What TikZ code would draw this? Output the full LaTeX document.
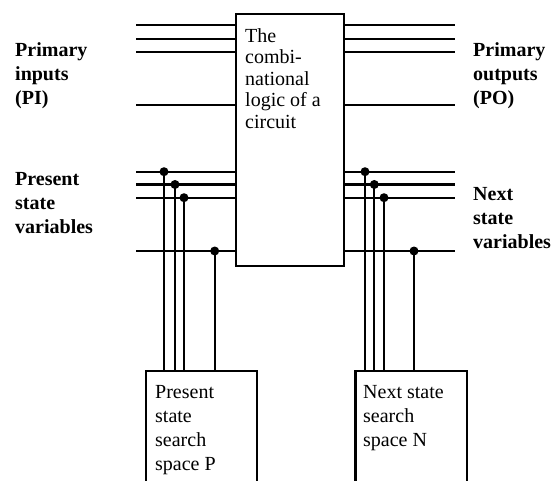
\documentclass[tikz,border=0pt]{standalone}
\usepackage{fontspec}
\setmainfont{Liberation Serif}
\usetikzlibrary{positioning}
\tikzset{
  wire/.style={line width=2.2pt},
  box/.style={draw, line width=2.2pt, inner sep=0pt, anchor=north west},
  sidelabel/.style={font=\fontsize{20}{24}\selectfont\bfseries, align=left, anchor=north west, inner sep=0pt},
  boxtext/.style={font=\fontsize{20}{24}\selectfont, align=left, anchor=north west, inner sep=0pt},
  joint/.style={circle, fill, inner sep=0pt, minimum size=9pt},
}

\begin{document}
\begin{tikzpicture}[x=1pt,y=-1pt]
    \useasboundingbox (0,0) rectangle (554,481);
    \clip (0,0) rectangle (554,481);
    % combinational block
    \node[box, minimum width=108pt, minimum height=252pt] (logic) at (235,13) {};
    \node[boxtext, font=\fontsize{20}{21.5}\selectfont] (logictext) at (245,28)
      {The\\combi-\\national\\logic of a\\circuit};
    % search space boxes (cut off at the bottom)
    \node[box, minimum width=110.7pt, minimum height=140pt] (psp) at (145,370) {};
    \node[boxtext] (psptext) at (155,385) {Present\\state\\search\\space P};
    \node[box, minimum width=111.4pt, minimum height=140pt] (nsp) at (354.3,370) {};
    \node[boxtext] (nsptext) at (363,385) {Next state\\search\\space N};
    % side labels
    \node[sidelabel] (pi) at (15,42) {Primary\\inputs\\(PI)};
    \node[sidelabel] (ps) at (15,172) {Present\\state\\variables};
    \node[sidelabel] (po) at (473,42) {Primary\\outputs\\(PO)};
    \node[sidelabel] (ns) at (473,187) {Next\\state\\variables};
    % primary inputs and outputs
    \foreach \y [count=\i] in {25,38.7,52,105} {
      \coordinate (pin\i) at (136,\y);
      \coordinate (pout\i) at (455,\y);
      \draw[wire] (pin\i) -- (pin\i -| logic.west);
      \draw[wire] (logic.east |- pout\i) -- (pout\i);
    }
    % state variables
    \foreach \y [count=\i] in {171.7,184.5,197.7,251} {
      \coordinate (sin\i) at (136,\y);
      \coordinate (sout\i) at (455,\y);
      \draw[wire] (sin\i) -- (sin\i -| logic.west);
      \draw[wire] (logic.east |- sout\i) -- (sout\i);
    }
    % taps down to the search spaces
    \foreach \x/\i in {164/1,175/2,184/3,214.7/4} {
      \node[joint] (ptap\i) at (sin\i -| \x,0) {};
      \draw[wire] (ptap\i.center) -- (ptap\i.center |- psp.north);
    }
    \foreach \x/\i in {365/1,374.3/2,384/3,414/4} {
      \node[joint] (ntap\i) at (sout\i -| \x,0) {};
      \draw[wire] (ntap\i.center) -- (ntap\i.center |- nsp.north);
    }
\end{tikzpicture}
\end{document}
